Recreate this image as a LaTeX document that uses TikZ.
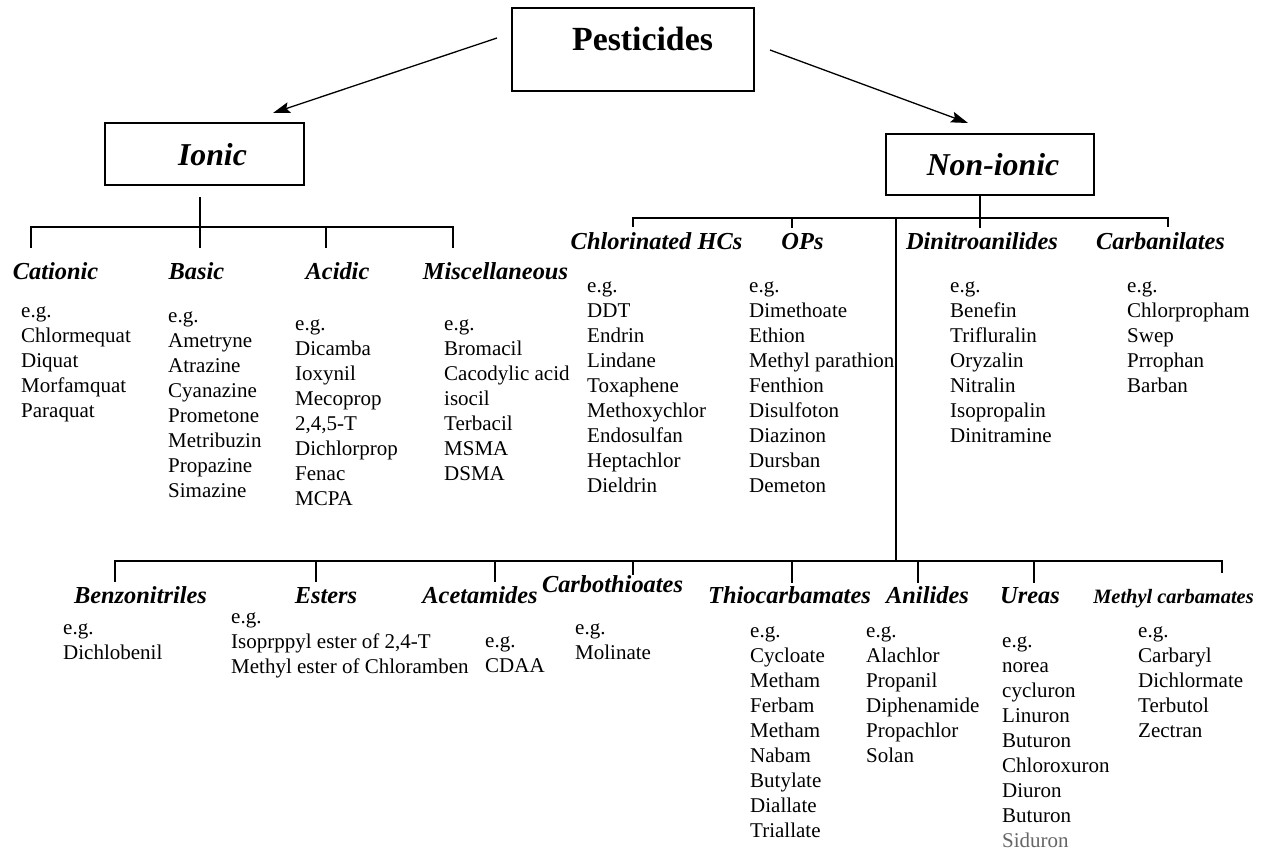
\documentclass[tikz,border=0pt]{standalone}
\usepackage{fontspec}
\setmainfont{Liberation Serif}
\usetikzlibrary{arrows.meta}
\begin{document}
\begin{tikzpicture}[x=1pt,y=-1pt,
  ln/.style={line width=1.2pt},
  boxst/.style={draw, line width=1.4pt, inner sep=0pt},
  ttl/.style={font=\fontsize{31.8}{36}\selectfont\bfseries\itshape, anchor=base, inner sep=0pt},
  hd/.style={font=\fontsize{24.4}{28}\selectfont\bfseries\itshape, anchor=base, inner sep=0pt},
  lst/.style={font=\fontsize{21}{25}\selectfont, align=left, anchor=north west, inner sep=0pt},
  arr/.style={line width=1.3pt, -{Stealth[length=17pt,width=11pt,inset=3pt]}}]
\useasboundingbox (0,0) rectangle (1267,852);
\fill[white] (0,0) rectangle (1267,852);

% title boxes
\node[boxst, minimum width=242pt, minimum height=83pt] (pestbox) at (633,49.5) {};
\node[anchor=base, inner sep=0pt, font=\fontsize{33.8}{38}\selectfont\bfseries] (pest) at (642.5,50) {Pesticides};
\node[boxst, minimum width=199pt, minimum height=62pt] (ionbox) at (204.5,154) {};
\node[ttl] (ion) at (212.5,165) {Ionic};
\node[boxst, minimum width=208pt, minimum height=61pt] (nonbox) at (990,164.5) {};
\node[ttl] (non) at (993,175) {Non-ionic};

% arrows
\coordinate (a1s) at (497,38);
\coordinate (a1e) at (273,113);
\coordinate (a2s) at (770,50);
\coordinate (a2e) at (968,123);
\draw[arr] (a1s) -- (a1e);
\draw[arr] (a2s) -- (a2e);

% ionic tree
\coordinate (ionstem) at (200,197);
\coordinate (ionbar) at (200,227);
\draw[ln] (ionstem) -- (ionbar);
\draw[ln] (31,248) |- (453,227) -- (453,248);
\draw[ln] (200,227) -- (200,248);
\draw[ln] (326,227) -- (326,248);

% non-ionic tree
\coordinate (nonbar) at (980,218);
\draw[ln] (nonbox.south -| nonbar) -- (nonbar);
\draw[ln] (633,227) |- (1168,218) -- (1168,227);
\draw[ln] (792,218) -- (792,228);
\draw[ln] (980,218) -- (980,228);
\draw[ln] (896,218) -- (896,561);

% bottom tree
\draw[ln] (115,582) |- (1222,561) -- (1222,573);
\draw[ln] (316,561) -- (316,582);
\draw[ln] (495,561) -- (495,582);
\draw[ln] (633,561) -- (633,575);
\draw[ln] (792,561) -- (792,583);
\draw[ln] (918,561) -- (918,583);
\draw[ln] (1034,561) -- (1034,583);

% ionic headings
\node[hd] (hcat) at (55.5,279) {Cationic};
\node[hd] (hbas) at (196.5,279) {Basic};
\node[hd] (hacid) at (337.5,279) {Acidic};
\node[hd] (hmisc) at (495.5,279) {Miscellaneous};

% non-ionic headings
\node[hd] (hchl) at (656.5,249) {Chlorinated HCs};
\node[hd] (hops) at (802.5,249) {OPs};
\node[hd] (hdin) at (982,249) {Dinitroanilides};
\node[hd] (hcarb) at (1160.5,249) {Carbanilates};

% bottom headings
\node[hd] (hbenz) at (140.5,603) {Benzonitriles};
\node[hd] (hest) at (326,603) {Esters};
\node[hd] (hacet) at (480,603) {Acetamides};
\node[hd] (hcth) at (612.5,592) {Carbothioates};
\node[hd] (hthio) at (789.5,603) {Thiocarbamates};
\node[hd] (hanil) at (927.5,603) {Anilides};
\node[hd] (hurea) at (1030,603) {Ureas};
\node[hd, font=\fontsize{20.4}{24}\selectfont\bfseries\itshape] (hmc) at (1173.5,603) {Methyl carbamates};

% lists ionic
\node[lst] (lcat) at (21,301) {\rule{0pt}{16pt}e.g.\\Chlormequat\\Diquat\\Morfamquat\\Paraquat};
\node[lst] (lbas) at (168,306) {\rule{0pt}{16pt}e.g.\\Ametryne\\Atrazine\\Cyanazine\\Prometone\\Metribuzin\\Propazine\\Simazine};
\node[lst] (lacid) at (295,314) {\rule{0pt}{16pt}e.g.\\Dicamba\\Ioxynil\\Mecoprop\\2,4,5-T\\Dichlorprop\\Fenac\\MCPA};
\node[lst] (lmisc) at (444,314) {\rule{0pt}{16pt}e.g.\\Bromacil\\Cacodylic acid\\isocil\\Terbacil\\MSMA\\DSMA};

% lists non-ionic
\node[lst] (lchl) at (587,276) {\rule{0pt}{16pt}e.g.\\DDT\\Endrin\\Lindane\\Toxaphene\\Methoxychlor\\Endosulfan\\Heptachlor\\Dieldrin};
\node[lst] (lops) at (749,276) {\rule{0pt}{16pt}e.g.\\Dimethoate\\Ethion\\Methyl parathion\\Fenthion\\Disulfoton\\Diazinon\\Dursban\\Demeton};
\node[lst] (ldin) at (950,276) {\rule{0pt}{16pt}e.g.\\Benefin\\Trifluralin\\Oryzalin\\Nitralin\\Isopropalin\\Dinitramine};
\node[lst] (lcarb) at (1127,276) {\rule{0pt}{16pt}e.g.\\Chlorpropham\\Swep\\Prrophan\\Barban};

% lists bottom
\node[lst] (lbenz) at (63,618) {\rule{0pt}{16pt}e.g.\\Dichlobenil};
\node[lst] (lest) at (231,607) {\rule{0pt}{16pt}e.g.\\Isoprppyl ester of 2,4-T\\Methyl ester of Chloramben};
\node[lst] (lacet) at (485,631) {\rule{0pt}{16pt}e.g.\\CDAA};
\node[lst] (lcth) at (575,618) {\rule{0pt}{16pt}e.g.\\Molinate};
\node[lst] (lthio) at (750,621) {\rule{0pt}{16pt}e.g.\\Cycloate\\Metham\\Ferbam\\Metham\\Nabam\\Butylate\\Diallate\\Triallate};
\node[lst] (lanil) at (866,621) {\rule{0pt}{16pt}e.g.\\Alachlor\\Propanil\\Diphenamide\\Propachlor\\Solan};
\node[lst] (lurea) at (1002,631) {\rule{0pt}{16pt}e.g.\\norea\\cycluron\\Linuron\\Buturon\\Chloroxuron\\Diuron\\Buturon\\\textcolor{black!60}{Siduron}};
\node[lst] (lmc) at (1138,621) {\rule{0pt}{16pt}e.g.\\Carbaryl\\Dichlormate\\Terbutol\\Zectran};
\end{tikzpicture}
\end{document}
